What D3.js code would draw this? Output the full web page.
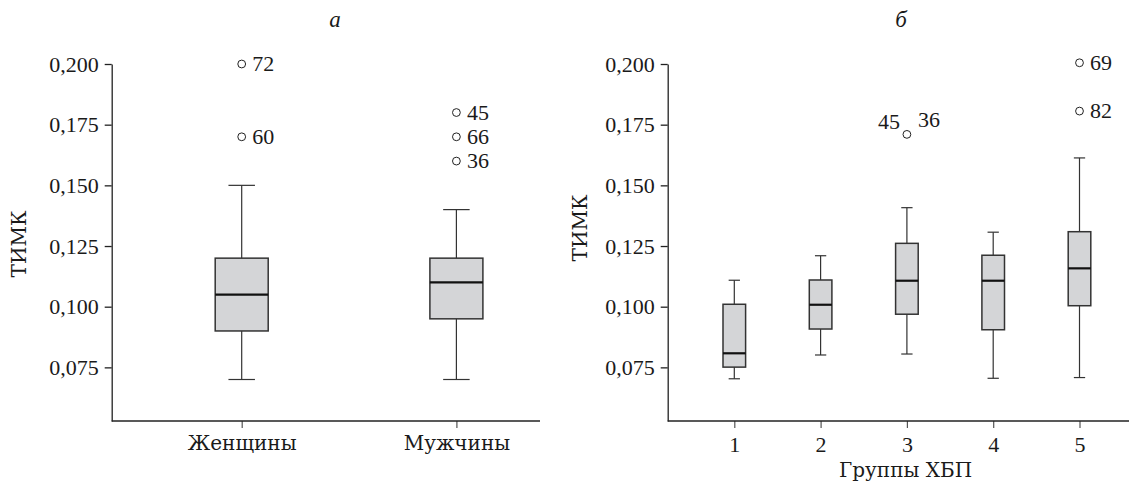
<!DOCTYPE html>
<html>
<head>
<meta charset="utf-8">
<script src="https://cdn.jsdelivr.net/npm/d3@7"></script>
<style>
  body { margin: 0; background: #fff; }
</style>
</head>
<body>
<div class="chart"></div>
<script>
// panel a: by sex
const sexGroups = ["Женщины", "Мужчины"];
const sexMin = [0.070, 0.070];
const sexQ1 = [0.090, 0.095];
const sexMedian = [0.105, 0.110];
const sexQ3 = [0.120, 0.120];
const sexMax = [0.150, 0.140];
const sexOutliers = [
    {group: "Женщины", value: 0.200, labels: ["72"]},
    {group: "Женщины", value: 0.170, labels: ["60"]},
    {group: "Мужчины", value: 0.180, labels: ["45"]},
    {group: "Мужчины", value: 0.170, labels: ["66"]},
    {group: "Мужчины", value: 0.160, labels: ["36"]}
];

// panel b: CKD groups
const ckdGroups = ["1", "2", "3", "4", "5"];
const ckdMin = [0.0703, 0.0801, 0.0805, 0.0705, 0.0708];
const ckdQ1 = [0.0751, 0.0908, 0.0969, 0.0905, 0.1004];
const ckdMedian = [0.0808, 0.1008, 0.1107, 0.1107, 0.1158];
const ckdQ3 = [0.1010, 0.1110, 0.1261, 0.1212, 0.1309];
const ckdMax = [0.1109, 0.1210, 0.1408, 0.1307, 0.1613];
const ckdOutliers = [
    {group: "3", value: 0.171, labels: ["45", "36"]},
    {group: "5", value: 0.2005, labels: ["69"]},
    {group: "5", value: 0.1806, labels: ["82"]}
];

const yTicks = [0.075, 0.100, 0.125, 0.150, 0.175, 0.200];

const width = 1129;
const height = 484;
const numFont = "'Liberation Serif', serif";
const wordFont = "'DejaVu Serif', serif";

const svg = d3.select('.chart')
    .append('svg')
    .attr('width', width)
    .attr('height', height);

//russian decimal comma
const fmt = d => d3.format(".3f")(d).replace(".", ",");

//builds one row per box from the arrays
function makeRows(groups, mn, q1, med, q3, mx) {
    return groups.map((g, i) => ({
        group: g, min: mn[i], q1: q1[i], median: med[i], q3: q3[i], max: mx[i]
    }));
}

function drawPanel(opt) {
    const y = d3.scaleLinear()
        .domain([0.0529, 0.200])
        .range([421, 64]);
    const x = d3.scalePoint()
        .domain(opt.groups)
        .range(opt.xRange);

    const g = svg.append('g');

    //y axis
    const ya = g.append('g')
        .attr('transform', `translate(${opt.axisLeft},0)`)
        .call(d3.axisLeft(y).tickValues(yTicks).tickFormat(fmt)
            .tickSize(7).tickPadding(6).tickSizeOuter(0));
    ya.selectAll('text')
        .attr('font-family', numFont)
        .attr('font-size', 22)
        .attr('fill', '#1a1a1a');
    ya.selectAll('path, line').attr('stroke', '#222').attr('stroke-width', 1.3);

    //x axis
    const xa = g.append('g')
        .attr('transform', 'translate(0,421)')
        .call(d3.axisBottom(x).tickSize(7).tickPadding(8).tickSizeOuter(0));
    xa.select('.domain').remove();
    xa.selectAll('line').attr('stroke', '#555').attr('stroke-width', 1.2);
    xa.selectAll('text')
        .attr('font-family', opt.tickFont)
        .attr('font-size', opt.tickSize)
        .attr('fill', '#1a1a1a');
    g.append('line')
        .attr('x1', opt.axisLeft)
        .attr('x2', opt.axisRight)
        .attr('y1', 421)
        .attr('y2', 421)
        .attr('stroke', '#222')
        .attr('stroke-width', 1.3);

    const bw = opt.boxWidth;

    //whiskers
    const wg = g.selectAll('g.whisk')
        .data(opt.rows)
        .enter()
        .append('g')
        .attr('class', 'whisk')
        .attr('stroke', '#333')
        .attr('stroke-width', 1.2);
    wg.append('line')
        .attr('x1', d => x(d.group)).attr('x2', d => x(d.group))
        .attr('y1', d => y(d.max)).attr('y2', d => y(d.q3));
    wg.append('line')
        .attr('x1', d => x(d.group)).attr('x2', d => x(d.group))
        .attr('y1', d => y(d.q1)).attr('y2', d => y(d.min));
    wg.append('line')
        .attr('x1', d => x(d.group) - bw / 4).attr('x2', d => x(d.group) + bw / 4)
        .attr('y1', d => y(d.max)).attr('y2', d => y(d.max));
    wg.append('line')
        .attr('x1', d => x(d.group) - bw / 4).attr('x2', d => x(d.group) + bw / 4)
        .attr('y1', d => y(d.min)).attr('y2', d => y(d.min));

    //boxes
    g.selectAll('rect.box')
        .data(opt.rows)
        .enter()
        .append('rect')
        .attr('class', 'box')
        .attr('x', d => x(d.group) - bw / 2)
        .attr('y', d => y(d.q3))
        .attr('width', bw)
        .attr('height', d => y(d.q1) - y(d.q3))
        .attr('fill', '#d4d5d7')
        .attr('stroke', '#333')
        .attr('stroke-width', 1.5);

    //medians
    g.selectAll('line.median')
        .data(opt.rows)
        .enter()
        .append('line')
        .attr('class', 'median')
        .attr('x1', d => x(d.group) - bw / 2)
        .attr('x2', d => x(d.group) + bw / 2)
        .attr('y1', d => y(d.median))
        .attr('y2', d => y(d.median))
        .attr('stroke', '#111')
        .attr('stroke-width', 2.2);

    //outliers
    g.selectAll('circle.out')
        .data(opt.outliers)
        .enter()
        .append('circle')
        .attr('class', 'out')
        .attr('cx', d => x(d.group))
        .attr('cy', d => y(d.value))
        .attr('r', 3.9)
        .attr('fill', '#fff')
        .attr('stroke', '#222')
        .attr('stroke-width', 1);

    opt.outliers.forEach(d => {
        const cx = x(d.group);
        const cy = y(d.value);
        if (d.labels.length === 2) {
            //two cases on one point: one label each side
            g.append('text').text(d.labels[0])
                .attr('x', cx - 7).attr('y', cy - 5)
                .attr('text-anchor', 'end')
                .attr('font-family', numFont).attr('font-size', 22).attr('fill', '#1a1a1a');
            g.append('text').text(d.labels[1])
                .attr('x', cx + 11).attr('y', cy - 7.6)
                .attr('font-family', numFont).attr('font-size', 22).attr('fill', '#1a1a1a');
        } else {
            g.append('text').text(d.labels[0])
                .attr('x', cx + 10.5).attr('y', cy)
                .attr('dy', '0.33em')
                .attr('font-family', numFont).attr('font-size', 22).attr('fill', '#1a1a1a');
        }
    });

    //axis title
    g.append('text')
        .text('ТИМК')
        .attr('transform', `translate(${opt.yLabelX},${opt.yLabelY}) rotate(-90)`)
        .attr('text-anchor', 'middle')
        .attr('font-family', wordFont)
        .attr('font-size', 20)
        .attr('fill', '#1a1a1a');

    //panel letter
    g.append('text')
        .text(opt.letter)
        .attr('x', opt.letterX)
        .attr('y', 27)
        .attr('text-anchor', 'middle')
        .attr('font-family', numFont)
        .attr('font-style', 'italic')
        .attr('font-size', 23)
        .attr('fill', '#1a1a1a');

    if (opt.xTitle) {
        g.append('text')
            .text(opt.xTitle)
            .attr('x', opt.xTitleX)
            .attr('y', 477)
            .attr('text-anchor', 'middle')
            .attr('font-family', wordFont)
            .attr('font-size', 20)
            .attr('fill', '#1a1a1a');
    }
}

drawPanel({
    groups: sexGroups,
    rows: makeRows(sexGroups, sexMin, sexQ1, sexMedian, sexQ3, sexMax),
    outliers: sexOutliers,
    xRange: [241.7, 456.4],
    axisLeft: 111.7,
    axisRight: 540,
    boxWidth: 53,
    tickFont: wordFont,
    tickSize: 20,
    yLabelX: 25.5,
    yLabelY: 244,
    letter: 'а',
    letterX: 335
});

drawPanel({
    groups: ckdGroups,
    rows: makeRows(ckdGroups, ckdMin, ckdQ1, ckdMedian, ckdQ3, ckdMax),
    outliers: ckdOutliers,
    xRange: [734.3, 1079.5],
    axisLeft: 667.7,
    axisRight: 1129,
    boxWidth: 22.6,
    tickFont: numFont,
    tickSize: 22,
    yLabelX: 587,
    yLabelY: 228,
    letter: 'б',
    letterX: 901,
    xTitle: 'Группы ХБП',
    xTitleX: 905.6
});
</script>
</body>
</html>
